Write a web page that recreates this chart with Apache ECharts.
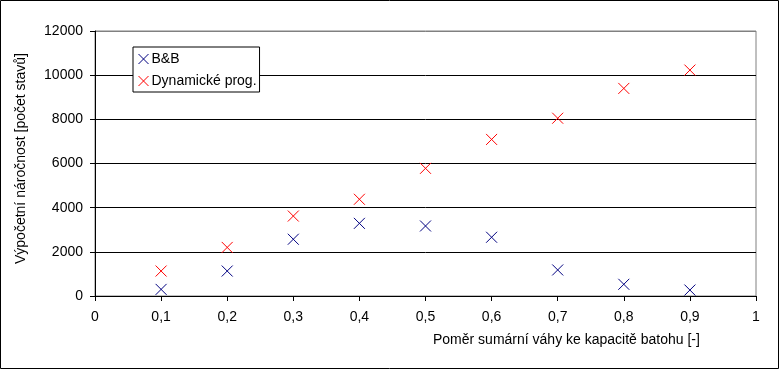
<!DOCTYPE html>
<html><head><meta charset="utf-8">
<script src="https://cdn.jsdelivr.net/npm/echarts@6/dist/echarts.min.js"></script>
<style>html,body{margin:0;padding:0;background:#fff}#c{width:780px;height:370px}</style>
</head><body><div id="c"></div>
<script>
const ratios = [0.1, 0.2, 0.3, 0.4, 0.5, 0.6, 0.7, 0.8, 0.9];
const bbValues = [300, 1130, 2570, 3290, 3170, 2660, 1180, 530, 270];
const dpValues = [1130, 2200, 3620, 4380, 5780, 7090, 8050, 9400, 10230];
const seriesNames = ['B&B', 'Dynamické prog.'];
const xTitle = 'Poměr sumární váhy ke kapacitě batohu [-]';
const yTitle = 'Výpočetní náročnost [počet stavů]';

const xMark = 'path://M0,0L10,10M10,0L0,10';
const font = 'Liberation Sans, Arial, sans-serif';
const fs = 14;
const chart = echarts.init(document.getElementById('c'));
function pts(vals){ return ratios.map((r,i)=>[r, vals[i]]); }
chart.setOption({
  animation: false,
  textStyle: {fontFamily: font},
  graphic: [{type:'rect', shape:{x:0.5,y:0.5,width:778,height:368}, style:{fill:'none', stroke:'#000', lineWidth:1}, z:-1},
            {type:'text', left:433, top:333, style:{text:xTitle, font:fs+'px '+font, fill:'#000'}},
            {type:'text', x:14, y:264, rotation:Math.PI/2, style:{text:yTitle, font:fs+'px '+font, fill:'#000'}}],
  grid: {left:95, right:24, top:31, bottom:74, show:true, borderColor:'#808080', borderWidth:1},
  legend: {
    left:133, top:47, orient:'vertical', width:127, height:44,
    backgroundColor:'#fff', borderColor:'#000', borderWidth:1, padding:[5,3,4,5],
    itemGap:8, itemWidth:10, itemHeight:10,
    itemStyle:{borderWidth:1},
    textStyle:{fontSize:fs, color:'#000', fontFamily:font, padding:[0,0,0,-2]},
    data: seriesNames.map(n=>({name:n, icon:xMark}))
  },
  xAxis: {
    type:'value', min:0, max:1, interval:0.1,
    axisLine:{lineStyle:{color:'#000'}},
    axisTick:{show:true, length:5, lineStyle:{color:'#000'}},
    axisLabel:{color:'#000', fontSize:fs, margin:14, fontFamily:font, formatter:v=>String(+v.toFixed(1)).replace('.',',')},
    splitLine:{show:false}
  },
  yAxis: {
    type:'value', min:0, max:12000, interval:2000,
    axisLine:{show:true, lineStyle:{color:'#000'}},
    axisTick:{show:true, length:5, lineStyle:{color:'#000'}},
    axisLabel:{color:'#000', fontSize:fs, margin:12, fontFamily:font, formatter:v=>String(v)},
    splitLine:{show:true, lineStyle:{color:['#000','#000','#000','#000','#000','#000','#808080'], width:1}}
  },
  series: [
    {name:seriesNames[0], type:'scatter', symbol:xMark, symbolSize:11, data:pts(bbValues),
     itemStyle:{color:'#000080', borderColor:'#000080', borderWidth:1, opacity:1}},
    {name:seriesNames[1], type:'scatter', symbol:xMark, symbolSize:11, data:pts(dpValues),
     itemStyle:{color:'#ff0000', borderColor:'#ff0000', borderWidth:1, opacity:1}}
  ]
});
</script></body></html>
